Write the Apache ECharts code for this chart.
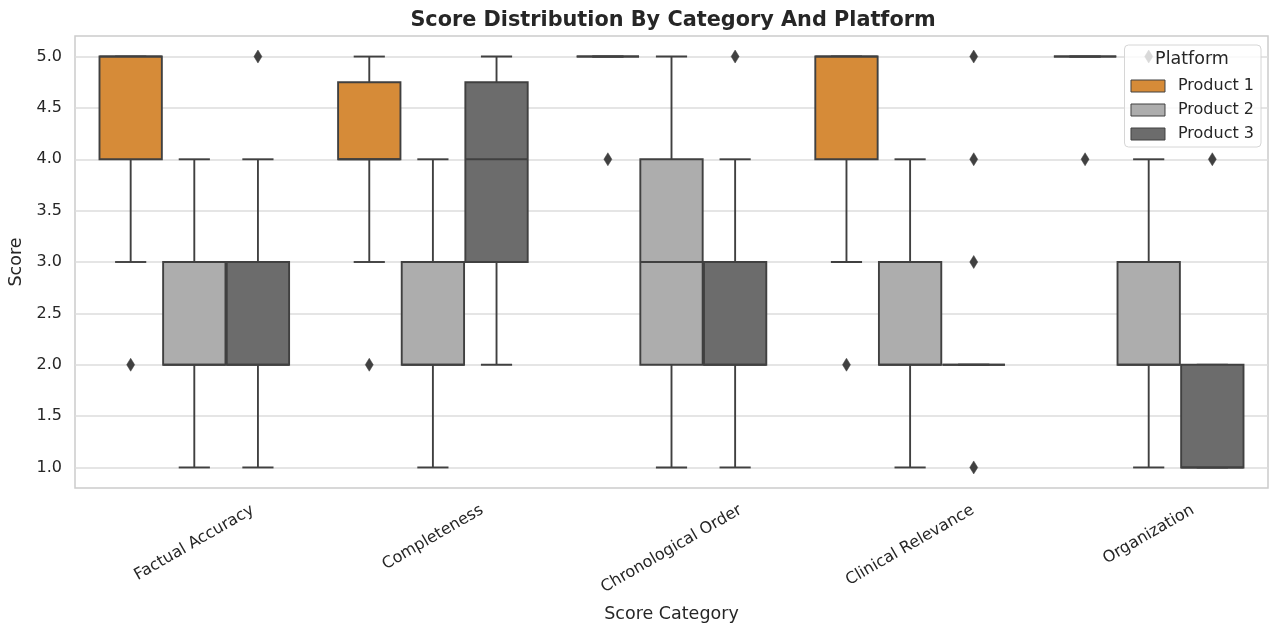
<!DOCTYPE html>
<html>
<head>
<meta charset="utf-8">
<script src="https://cdn.jsdelivr.net/npm/echarts@6/dist/echarts.min.js"></script>
<style>
  html, body { margin: 0; padding: 0; background: #ffffff; }
  #chart { width: 1270px; height: 624px; }
</style>
</head>
<body>
<div id="chart"></div>
<script>
// Score categories along the x axis
const categories = ['Factual Accuracy', 'Completeness', 'Chronological Order', 'Clinical Relevance', 'Organization'];
const platforms = ['Product 1', 'Product 2', 'Product 3'];

// Box statistics per category: [lower whisker, Q1, median, Q3, upper whisker]
const product1Stats = [[3, 4, 5, 5, 5], [3, 4, 4, 4.75, 5], [5, 5, 5, 5, 5], [3, 4, 5, 5, 5], [5, 5, 5, 5, 5]];
const product2Stats = [[1, 2, 2, 3, 4], [1, 2, 2, 3, 4], [1, 2, 3, 4, 5], [1, 2, 2, 3, 4], [1, 2, 2, 3, 4]];
const product3Stats = [[1, 2, 2, 3, 4], [2, 3, 4, 4.75, 5], [1, 2, 2, 3, 4], [2, 2, 2, 2, 2], [1, 1, 1, 2, 2]];

// Outlier scores per category
const product1Outliers = [[2], [2], [4], [2], [4]];
const product2Outliers = [[], [], [], [], [5]];
const product3Outliers = [[5], [], [5], [5, 4, 3, 1], [4]];

// Y axis tick values
const yTicks = [1.0, 1.5, 2.0, 2.5, 3.0, 3.5, 4.0, 4.5, 5.0];

const fillColors = ['#d68b38', '#adadad', '#6c6c6c'];
const edgeColor = '#404040';
const textColor = '#262626';
const fontFamily = '"DejaVu Sans", sans-serif';

const statsBySlot = [product1Stats, product2Stats, product3Stats];
const outliersBySlot = [product1Outliers, product2Outliers, product3Outliers];

// Each category band is 80% filled by three adjacent boxes
function slotGeometry(api, cat, slot) {
  const band = api.size([1, 0])[0];
  const slotW = band * 0.8 / 3;
  const cx = api.coord([cat, 0])[0] + (slot - 1) * slotW;
  return { cx: cx, half: slotW * 0.98 / 2 };
}

function boxRenderer(slot) {
  return function (params, api) {
    const cat = api.value(0);
    const g = slotGeometry(api, cat, slot);
    const y = (d) => api.coord([cat, api.value(d)])[1];
    const yMin = y(1), yQ1 = y(2), yMed = y(3), yQ3 = y(4), yMax = y(5);
    const capHalf = g.half / 2;
    const ls = { stroke: edgeColor, lineWidth: 1.9 };
    return {
      type: 'group',
      children: [
        { type: 'line', shape: { x1: g.cx, y1: yQ1, x2: g.cx, y2: yMin }, style: ls },
        { type: 'line', shape: { x1: g.cx, y1: yQ3, x2: g.cx, y2: yMax }, style: ls },
        { type: 'line', shape: { x1: g.cx - capHalf, y1: yMin, x2: g.cx + capHalf, y2: yMin }, style: ls },
        { type: 'line', shape: { x1: g.cx - capHalf, y1: yMax, x2: g.cx + capHalf, y2: yMax }, style: ls },
        {
          type: 'rect',
          shape: { x: g.cx - g.half, y: yQ3, width: g.half * 2, height: yQ1 - yQ3 },
          style: { fill: fillColors[slot], stroke: edgeColor, lineWidth: 1.9 }
        },
        { type: 'line', shape: { x1: g.cx - g.half, y1: yMed, x2: g.cx + g.half, y2: yMed }, style: ls }
      ]
    };
  };
}

function outlierRenderer(slot) {
  return function (params, api) {
    const cat = api.value(0);
    const g = slotGeometry(api, cat, slot);
    const p = api.coord([cat, api.value(1)]);
    const hw = 4, hh = 6.5;
    return {
      type: 'polygon',
      shape: { points: [[g.cx, p[1] - hh], [g.cx + hw, p[1]], [g.cx, p[1] + hh], [g.cx - hw, p[1]]] },
      style: { fill: edgeColor, stroke: edgeColor, lineWidth: 0.5 }
    };
  };
}

const series = [];
platforms.forEach(function (name, slot) {
  series.push({
    name: name,
    type: 'custom',
    renderItem: boxRenderer(slot),
    encode: { x: 0, y: [1, 2, 3, 4, 5] },
    itemStyle: { color: fillColors[slot] },
    data: statsBySlot[slot].map((s, i) => [i].concat(s)),
    z: 2
  });
});
platforms.forEach(function (name, slot) {
  const pts = [];
  outliersBySlot[slot].forEach((vals, i) => vals.forEach(v => pts.push([i, v])));
  series.push({
    name: name,
    type: 'custom',
    renderItem: outlierRenderer(slot),
    encode: { x: 0, y: 1 },
    itemStyle: { color: fillColors[slot] },
    data: pts,
    z: 3
  });
});

// Rotated tick labels are centred under their tick with their tops aligned
const tickFont = 16;
const measureCtx = document.createElement('canvas').getContext('2d');
measureCtx.font = tickFont + 'px ' + fontFamily;
const labelRich = {};
categories.forEach(function (c, i) {
  const w = measureCtx.measureText(c).width;
  const d = w / 4;
  labelRich['c' + i] = {
    fontSize: tickFont, fontFamily: fontFamily, color: textColor,
    padding: [d * 1.732, d, 0, 0]
  };
});

const chart = echarts.init(document.getElementById('chart'), null, { renderer: 'canvas' });
chart.setOption({
  backgroundColor: '#ffffff',
  animation: false,
  title: {
    text: 'Score Distribution By Category And Platform',
    left: 668, top: 5, textAlign: 'center',
    textStyle: { fontFamily: fontFamily, fontSize: 20.8, fontWeight: 'bold', color: textColor }
  },
  grid: {
    left: 75, right: 2, top: 36, bottom: 136,
    containLabel: false, outerBoundsMode: 'none',
    show: true, borderColor: '#cccccc', borderWidth: 1.5, backgroundColor: 'transparent'
  },
  legend: {
    orient: 'vertical', right: 9, top: 45,
    padding: [33, 7, 5, 6],
    itemWidth: 34, itemHeight: 12, itemGap: 8,
    backgroundColor: 'rgba(255,255,255,0.8)',
    borderColor: '#d6d6d6', borderWidth: 1, borderRadius: 4,
    textStyle: { fontFamily: fontFamily, fontSize: 16, color: textColor, padding: [0, 0, 0, 8] },
    data: platforms.map((p, i) => ({
      name: p, icon: 'rect',
      itemStyle: { color: fillColors[i], borderColor: edgeColor, borderWidth: 1 }
    })),
    z: 10
  },
  graphic: [{
    type: 'text', z: 100,
    style: {
      text: 'Platform', x: 1192, y: 59, align: 'center', verticalAlign: 'middle',
      fontFamily: fontFamily, fontSize: 17.5, fill: textColor
    }
  }],
  xAxis: {
    type: 'category',
    data: categories,
    name: 'Score Category', nameLocation: 'middle', nameGap: 117,
    nameTextStyle: { fontFamily: fontFamily, fontSize: 17.5, color: textColor },
    axisLine: { show: false }, axisTick: { show: false }, splitLine: { show: false },
    axisLabel: {
      interval: 0, rotate: 30, align: 'center', verticalAlign: 'middle', margin: 21,
      fontFamily: fontFamily, fontSize: tickFont, color: textColor,
      formatter: (v, i) => '{c' + i + '|' + v + '}',
      rich: labelRich
    }
  },
  yAxis: {
    type: 'value', min: 0.8, max: 5.2,
    name: 'Score', nameLocation: 'middle', nameGap: 47, nameRotate: 90,
    nameTextStyle: { fontFamily: fontFamily, fontSize: 17.5, color: textColor },
    axisLine: { show: false },
    axisTick: { show: false, customValues: yTicks },
    axisLabel: {
      customValues: yTicks, margin: 13,
      fontFamily: fontFamily, fontSize: tickFont, color: textColor,
      formatter: v => v.toFixed(1)
    },
    splitLine: { show: true, lineStyle: { color: '#dddddd', width: 1.5 } }
  },
  series: series
});
</script>
</body>
</html>
